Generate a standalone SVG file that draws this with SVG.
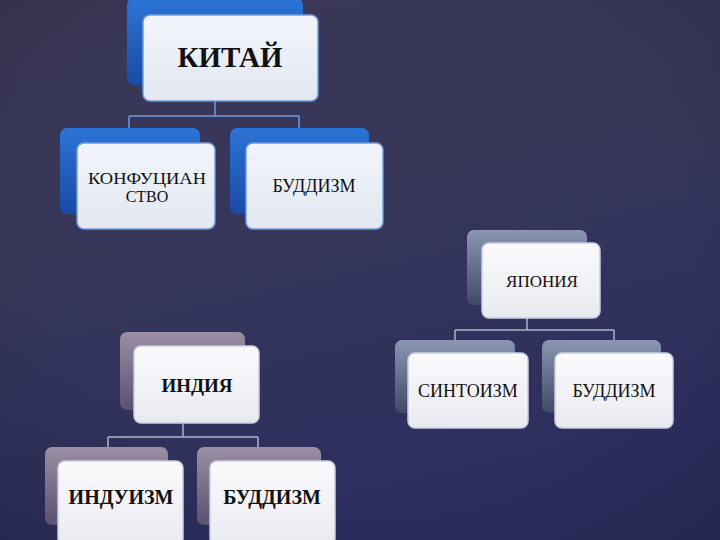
<svg xmlns="http://www.w3.org/2000/svg" width="720" height="540" viewBox="0 0 720 540">
<defs>
<linearGradient id="bg" x1="0" y1="0" x2="0.3" y2="1">
<stop offset="0" stop-color="#3b3857"/>
<stop offset="0.5" stop-color="#36365a"/>
<stop offset="1" stop-color="#2c2e5e"/>
</linearGradient>
<radialGradient id="vig" cx="0.5" cy="0.45" r="0.75">
<stop offset="0.6" stop-color="#000" stop-opacity="0"/>
<stop offset="1" stop-color="#000" stop-opacity="0.15"/>
</radialGradient>
<linearGradient id="blue" x1="0" y1="0" x2="0" y2="1">
<stop offset="0" stop-color="#2c74d6"/>
<stop offset="1" stop-color="#1a4aa2"/>
</linearGradient>
<linearGradient id="steel" x1="0" y1="0" x2="0" y2="1">
<stop offset="0" stop-color="#8b97b2"/>
<stop offset="1" stop-color="#3f4868"/>
</linearGradient>
<linearGradient id="mauve" x1="0" y1="0" x2="0" y2="1">
<stop offset="0" stop-color="#9a8fa4"/>
<stop offset="1" stop-color="#5a5070"/>
</linearGradient>
<linearGradient id="front" x1="0" y1="0" x2="0" y2="1">
<stop offset="0" stop-color="#f2f5fb"/>
<stop offset="1" stop-color="#e2e7f1"/>
</linearGradient>
<linearGradient id="front2" x1="0" y1="0" x2="0" y2="1">
<stop offset="0" stop-color="#fbfbfd"/>
<stop offset="1" stop-color="#e9e9f0"/>
</linearGradient>
</defs>
<style>
.bb{fill:url(#blue)}
.bs{fill:url(#steel)}
.bm{fill:url(#mauve)}
.fb{fill:url(#front);stroke:#6f9be0;stroke-width:1.5}
.fw{fill:url(#front2);stroke:#c9cde0;stroke-width:1.5}
.t{font-family:"Liberation Serif","Times New Roman",serif;fill:#111;text-anchor:middle}
.b{font-weight:bold}
.conb{fill:none;stroke:#6f9be0;stroke-width:1.5}
.cong{fill:none;stroke:#aeb3c6;stroke-width:1.5}
</style>
<rect width="720" height="540" fill="url(#bg)"/>
<rect width="720" height="540" fill="url(#vig)"/>

<g id="connectors">
<path class="conb" d="M215,101 V116 M129,116 H299 M129,116 V128 M299,116 V128"/>
<path class="cong" d="M527,318 V330 M455,330 H614 M455,330 V340 M614,330 V340"/>
<path class="cong" d="M183,423 V437 M108,437 H258 M108,437 V447 M258,437 V447"/>
</g>

<g id="china">
<rect class="bb" x="127" y="-2" width="176" height="87" rx="7"/>
<rect class="fb" x="143" y="15" width="175" height="86" rx="7"/>
<text class="t b" x="230" y="67" font-size="29">КИТАЙ</text>
</g>
<g id="confucianism">
<rect class="bb" x="60" y="128" width="140" height="86" rx="7"/>
<rect class="fb" x="77" y="143" width="138" height="86" rx="7"/>
<text class="t" x="147" y="184" font-size="16" textLength="118" lengthAdjust="spacingAndGlyphs">КОНФУЦИАН</text>
<text class="t" x="147" y="202" font-size="16">СТВО</text>
</g>
<g id="buddhism-china">
<rect class="bb" x="230" y="128" width="139" height="86" rx="7"/>
<rect class="fb" x="246" y="143" width="137" height="86" rx="7"/>
<text class="t" x="314" y="192" font-size="18">БУДДИЗМ</text>
</g>

<g id="japan">
<rect class="bs" x="467" y="230" width="120" height="75" rx="7"/>
<rect class="fw" x="482" y="243" width="118" height="75" rx="7"/>
<text class="t" x="542" y="287" font-size="17">ЯПОНИЯ</text>
</g>
<g id="shinto">
<rect class="bs" x="395" y="340" width="120" height="73" rx="7"/>
<rect class="fw" x="408" y="353" width="120" height="75" rx="7"/>
<text class="t" x="468" y="397" font-size="18">СИНТОИЗМ</text>
</g>
<g id="buddhism-japan">
<rect class="bs" x="542" y="340" width="119" height="73" rx="7"/>
<rect class="fw" x="555" y="353" width="118" height="75" rx="7"/>
<text class="t" x="614" y="397" font-size="18">БУДДИЗМ</text>
</g>

<g id="india">
<rect class="bm" x="120" y="332" width="125" height="78" rx="7"/>
<rect class="fw" x="134" y="346" width="125" height="77" rx="7"/>
<text class="t b" x="197" y="392" font-size="19">ИНДИЯ</text>
</g>
<g id="hinduism">
<rect class="bm" x="45" y="447" width="123" height="78" rx="7"/>
<rect class="fw" x="58" y="461" width="125" height="84" rx="7"/>
<text class="t b" x="121" y="504" font-size="20">ИНДУИЗМ</text>
</g>
<g id="buddhism-india">
<rect class="bm" x="197" y="447" width="124" height="78" rx="7"/>
<rect class="fw" x="210" y="461" width="125" height="84" rx="7"/>
<text class="t b" x="272" y="504" font-size="20">БУДДИЗМ</text>
</g>
</svg>
